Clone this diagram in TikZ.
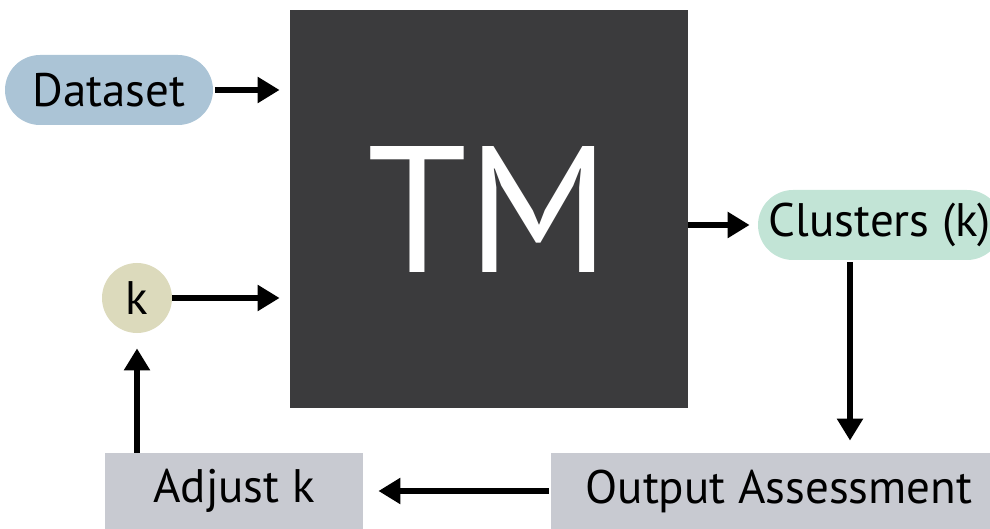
\documentclass[tikz,border=0pt]{standalone}
\usepackage{fontspec}
\setmainfont{PT Sans}
\usetikzlibrary{arrows.meta,positioning}

\definecolor{dataBlue}{HTML}{ABC4D6}
\definecolor{kOlive}{HTML}{DCDABC}
\definecolor{clusterMint}{HTML}{C2E4D6}
\definecolor{tmGray}{HTML}{3B3B3D}
\definecolor{stepGray}{HTML}{C8CAD1}

\tikzset{
  pill/.style={rectangle, rounded corners=17.5pt, minimum height=35pt, inner sep=0pt, font=\fontsize{23.5}{26}\selectfont},
  stepbox/.style={rectangle, fill=stepGray, minimum height=38pt, inner sep=0pt, font=\fontsize{23.5}{26}\selectfont},
  flow/.style={line width=3pt, -{Triangle[length=11pt, width=12.5pt]}}
}

\begin{document}
\begin{tikzpicture}[x=0.5pt, y=-0.5pt]
\useasboundingbox (0,0) rectangle (990,529);
\clip (0,0) rectangle (990,529);

% Main block
\node[fill=tmGray, minimum size=199pt, inner sep=0pt, text=white, font=\fontsize{90}{90}\selectfont] (tm) at (489,209) {TM};

% Inputs
\node[pill, fill=dataBlue, minimum width=104pt] (dataset) at (109,90) {Dataset};
\node[circle, fill=kOlive, minimum size=35pt, inner sep=0pt, font=\fontsize{23.5}{26}\selectfont] (k) at (137,298) {k};

% Output and feedback loop
\node[pill, fill=clusterMint, minimum width=122pt] (clusters) at (880,225) {Clusters (k)};
\node[stepbox, minimum width=228pt] (output) at (779,491) {Output Assessment};
\node[stepbox, minimum width=129pt] (adjust) at (234,491) {Adjust k};

% Arrows
\draw[flow, shorten <=1pt, shorten >=5pt] (dataset.east) -- (dataset.east -| tm.west);
\draw[flow, shorten >=5pt] (k.east) -- (k.east -| tm.west);
\draw[flow, shorten >=4pt] (tm.east |- clusters) -- (clusters.west);
\draw[flow, shorten <=1pt, shorten >=6pt] ([xshift=-15pt]clusters.south) -- ([xshift=-15pt]clusters.south |- output.north);
\draw[flow, shorten <=1pt, shorten >=7.5pt] (output.west) -- (adjust.east);
\draw[flow, shorten >=7.5pt] (k |- adjust.north) -- (k.south);

\end{tikzpicture}
\end{document}
